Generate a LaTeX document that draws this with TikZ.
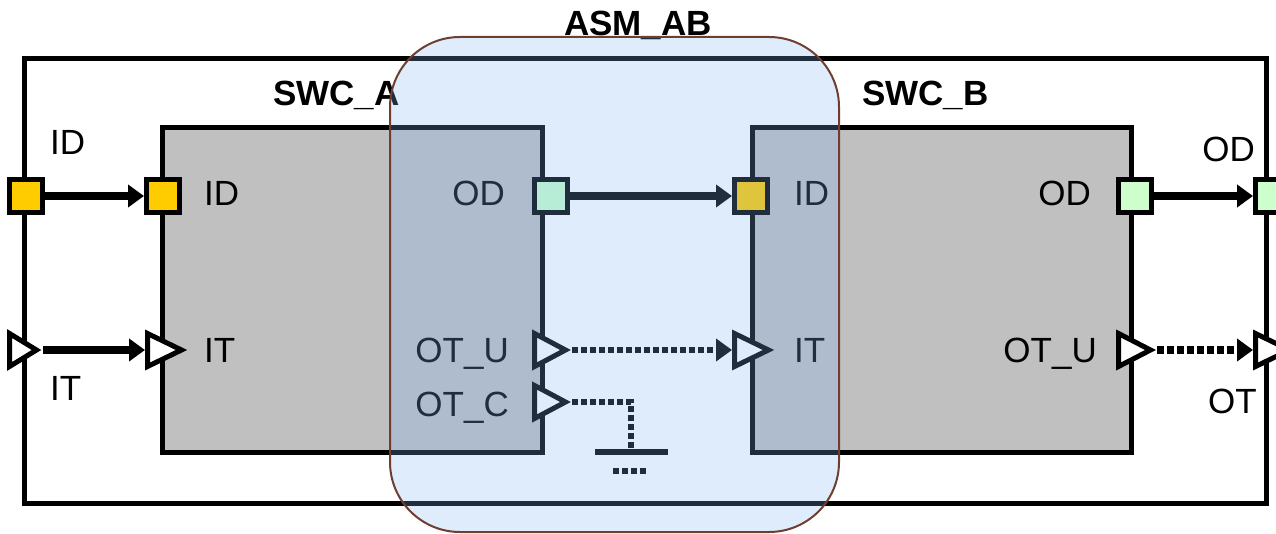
\documentclass[tikz,border=0pt]{standalone}
\usepackage{fontspec}
\setmainfont{Liberation Sans}
\usetikzlibrary{arrows.meta,shapes.geometric}
\definecolor{portin}{RGB}{255,204,0}
\definecolor{portout}{RGB}{204,255,204}
\definecolor{swcgray}{RGB}{192,192,192}
\definecolor{asmfill}{RGB}{124,180,244}
\definecolor{asmborder}{RGB}{110,62,48}
\begin{document}
\begin{tikzpicture}[x=1pt,y=-1pt,
  lbl/.style={font=\fontsize{35}{40}\selectfont, inner sep=0pt},
  ttl/.style={font=\fontsize{35}{40}\selectfont\bfseries, inner sep=0pt},
  frame/.style={draw=black, line width=5pt},
  swcbox/.style={draw=black, fill=swcgray, line width=5pt},
  sqport/.style={draw=black, line width=5pt, minimum size=33pt, inner sep=0pt},
  triport/.style={isosceles triangle, isosceles triangle stretches, shape border rotate=0,
    draw=black, fill=white, line width=5pt, minimum width=33pt, minimum height=34pt, inner sep=0pt, anchor=lower side},
  conn/.style={line width=8pt, -{Triangle[length=16pt,width=22pt]}},
  dconn/.style={line width=6pt, dash pattern=on 6pt off 3pt, -{Triangle[length=16pt,width=22pt]}},
  dline/.style={line width=6pt, dash pattern=on 6pt off 3pt},
  asm/.style={draw=asmborder, line width=2pt, fill=asmfill, fill opacity=0.25, rounded corners=70pt}
]
\useasboundingbox (0,0) rectangle (1276,534);
\clip (0,0) rectangle (1276,534);

% outer composition frame
\draw[frame] (24,59) rectangle (1266,503);

% components
\draw[swcbox] (162,128) rectangle (542,452);
\draw[swcbox] (752,128) rectangle (1131,452);

% ports
\node[sqport, fill=portin] (oID) at (26,196) {};
\node[triport, minimum height=27pt] (oIT) at (7,350) {};
\node[sqport, fill=portin] (aID) at (163,196) {};
\node[triport] (aIT) at (145,350) {};
\node[sqport, fill=portout] (aOD) at (551,196) {};
\node[triport, minimum height=31pt] (aOTU) at (532,350) {};
\node[triport, minimum height=31pt] (aOTC) at (532,402) {};
\node[sqport, fill=portin] (bID) at (751,196) {};
\node[triport] (bIT) at (732,350) {};
\node[sqport, fill=portout] (bOD) at (1135,196) {};
\node[triport, minimum height=32pt] (bOTU) at (1116,350) {};
\node[sqport, fill=portout] (oOD) at (1272,196) {};
\node[triport] (oOT) at (1253,350) {};

% connectors
\draw[conn] (oID.east) -- (aID.west);
\draw[conn] (oIT.apex) -- (aIT.lower side);
\draw[conn] (aOD.east) -- (bID.west);
\draw[dconn] (aOTU.apex) -- (bIT.lower side);
\draw[conn] (bOD.east) -- (oOD.west);
\draw[dconn, line width=8pt, dash pattern=on 7pt off 3pt] (bOTU.apex) -- (oOT.lower side);

% unconnected OT_C terminated to ground
\coordinate (gc) at (631,452);
\coordinate (gl) at (595,452);
\coordinate (gr) at (668,452);
\coordinate (dl) at (613,471);
\coordinate (dr) at (648,471);
\draw[dline] (aOTC.apex) -| (gc);
\draw[line width=6pt] (gl) -- (gr);
\draw[dline] (dl) -- (dr);

% labels
\node[lbl, anchor=base west] (loID) at (50,155) {ID};
\node[lbl, anchor=base west] (loIT) at (50,400) {IT};
\node[lbl, anchor=base west] (laID) at (204,206) {ID};
\node[lbl, anchor=base west] (laIT) at (204,362) {IT};
\node[lbl, anchor=base east] (laOD) at (505,206) {OD};
\node[lbl, anchor=base east] (laOTU) at (509,362) {OT\_U};
\node[lbl, anchor=base east] (laOTC) at (509,416) {OT\_C};
\node[lbl, anchor=base west] (lbID) at (794,206) {ID};
\node[lbl, anchor=base west] (lbIT) at (794,362) {IT};
\node[lbl, anchor=base east] (lbOD) at (1091,206) {OD};
\node[lbl, anchor=base east] (lbOTU) at (1097,362) {OT\_U};
\node[lbl, anchor=base east] (loOD) at (1255,162) {OD};
\node[lbl, anchor=base east] (loOT) at (1257,413) {OT};
\node[ttl, anchor=base west] (tA) at (273,106) {SWC\_A};
\node[ttl, anchor=base west] (tB) at (862,106) {SWC\_B};
\node[ttl, anchor=base] (tAsm) at (638,36) {ASM\_AB};

% assembly connector overlay
\draw[asm] (390,37) rectangle (839,532);
\end{tikzpicture}
\end{document}
